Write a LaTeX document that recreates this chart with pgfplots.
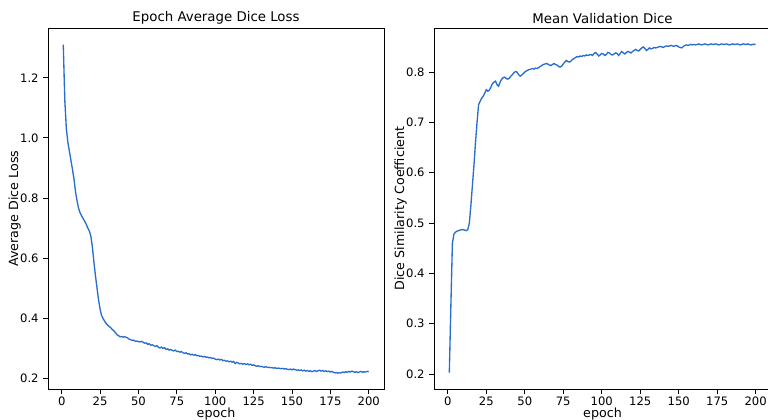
\documentclass[border=0pt]{standalone}
\usepackage{pgfplots}
\pgfplotsset{compat=1.18}
\usepackage{fontspec}
\setmainfont{DejaVu Sans}

\definecolor{lineblue}{RGB}{40,110,205}

\pgfplotstableread{
ep loss
1 1.310
2 1.125
3 1.030
4 0.985
5 0.955
6 0.925
7 0.895
8 0.862
9 0.820
10 0.790
11 0.765
12 0.750
13 0.740
14 0.731
15 0.722
16 0.712
17 0.700
18 0.690
19 0.672
20 0.635
21 0.585
22 0.540
23 0.500
24 0.460
25 0.430
26 0.408
27 0.398
28 0.390
29 0.382
30 0.377
31 0.372
32 0.368
33 0.362
34 0.358
35 0.352
36 0.345
37 0.342
38 0.338
39 0.339
40 0.337
41 0.339
42 0.336
43 0.334
44 0.330
45 0.328
46 0.326
47 0.327
48 0.323
49 0.324
50 0.322
51 0.321
52 0.323
53 0.320
54 0.317
55 0.318
56 0.313
57 0.315
58 0.310
59 0.312
60 0.308
61 0.306
62 0.309
63 0.303
64 0.301
65 0.304
66 0.299
67 0.302
68 0.296
69 0.298
70 0.294
71 0.296
72 0.293
73 0.291
74 0.294
75 0.289
76 0.290
77 0.287
78 0.289
79 0.285
80 0.283
81 0.285
82 0.281
83 0.282
84 0.278
85 0.280
86 0.277
87 0.279
88 0.275
89 0.276
90 0.273
91 0.274
92 0.271
93 0.273
94 0.270
95 0.271
96 0.268
97 0.269
98 0.266
99 0.267
100 0.264
101 0.262
102 0.264
103 0.261
104 0.263
105 0.259
106 0.260
107 0.257
108 0.258
109 0.255
110 0.257
111 0.254
112 0.256
113 0.249
114 0.253
115 0.251
116 0.248
117 0.250
118 0.247
119 0.249
120 0.246
121 0.248
122 0.245
123 0.247
124 0.243
125 0.245
126 0.242
127 0.240
128 0.242
129 0.239
130 0.240
131 0.238
132 0.237
133 0.239
134 0.236
135 0.237
136 0.235
137 0.236
138 0.234
139 0.235
140 0.233
141 0.234
142 0.233
143 0.232
144 0.233
145 0.231
146 0.232
147 0.230
148 0.229
149 0.231
150 0.228
151 0.231
152 0.229
153 0.227
154 0.228
155 0.226
156 0.228
157 0.225
158 0.227
159 0.224
160 0.226
161 0.223
162 0.225
163 0.222
164 0.224
165 0.226
166 0.223
167 0.225
168 0.227
169 0.224
170 0.226
171 0.223
172 0.225
173 0.222
174 0.224
175 0.221
176 0.223
177 0.220
178 0.218
179 0.219
180 0.217
181 0.219
182 0.218
183 0.221
184 0.219
185 0.222
186 0.220
187 0.223
188 0.221
189 0.224
190 0.222
191 0.220
192 0.222
193 0.219
194 0.221
195 0.223
196 0.220
197 0.222
198 0.221
199 0.223
200 0.222
}\losstable

\pgfplotstableread{
ep dice
1 0.203
2 0.335
3 0.460
4 0.478
5 0.482
6 0.484
7 0.485
8 0.486
9 0.487
10 0.487
11 0.486
12 0.485
13 0.487
14 0.500
15 0.535
16 0.575
17 0.615
18 0.660
19 0.700
20 0.735
21 0.742
22 0.748
23 0.752
24 0.758
25 0.765
26 0.762
27 0.764
28 0.770
29 0.777
30 0.780
31 0.782
32 0.775
33 0.772
34 0.780
35 0.786
36 0.789
37 0.790
38 0.787
39 0.786
40 0.788
41 0.792
42 0.795
43 0.799
44 0.801
45 0.800
46 0.795
47 0.792
48 0.794
49 0.797
50 0.800
51 0.802
52 0.804
53 0.805
54 0.806
55 0.807
56 0.806
57 0.808
58 0.807
59 0.809
60 0.811
61 0.813
62 0.815
63 0.816
64 0.817
65 0.816
66 0.814
67 0.813
68 0.815
69 0.817
70 0.815
71 0.814
72 0.811
73 0.810
74 0.812
75 0.816
76 0.820
77 0.823
78 0.821
79 0.820
80 0.822
81 0.825
82 0.827
83 0.829
84 0.831
85 0.830
86 0.832
87 0.831
88 0.833
89 0.832
90 0.834
91 0.833
92 0.834
93 0.835
94 0.833
95 0.837
96 0.839
97 0.836
98 0.832
99 0.834
100 0.837
101 0.836
102 0.833
103 0.835
104 0.839
105 0.838
106 0.835
107 0.834
108 0.836
109 0.838
110 0.837
111 0.833
112 0.837
113 0.841
114 0.838
115 0.836
116 0.839
117 0.841
118 0.840
119 0.838
120 0.841
121 0.843
122 0.845
123 0.843
124 0.842
125 0.845
126 0.848
127 0.850
128 0.847
129 0.843
130 0.845
131 0.848
132 0.846
133 0.847
134 0.849
135 0.848
136 0.849
137 0.850
138 0.851
139 0.850
140 0.849
141 0.851
142 0.852
143 0.851
144 0.852
145 0.853
146 0.852
147 0.851
148 0.853
149 0.852
150 0.850
151 0.849
152 0.848
153 0.851
154 0.853
155 0.854
156 0.853
157 0.854
158 0.855
159 0.854
160 0.855
161 0.854
162 0.855
163 0.856
164 0.855
165 0.854
166 0.855
167 0.856
168 0.855
169 0.854
170 0.855
171 0.856
172 0.855
173 0.855
174 0.856
175 0.855
176 0.854
177 0.855
178 0.856
179 0.855
180 0.855
181 0.856
182 0.855
183 0.854
184 0.855
185 0.856
186 0.855
187 0.855
188 0.856
189 0.855
190 0.854
191 0.855
192 0.856
193 0.855
194 0.855
195 0.856
196 0.855
197 0.854
198 0.855
199 0.855
200 0.855
}\dicetable

\pgfplotsset{
  mplstyle/.style={
    scale only axis,
    width=252pt, height=270.75pt,
    anchor=south west,
    axis line style={black, line width=0.7pt},
    tick align=outside,
    xtick pos=bottom, ytick pos=left,
    major tick length=3.5pt,
    every tick/.style={black, line width=0.7pt},
    tick label style={font=\fontsize{8.7}{10}\selectfont},
    xticklabel style={yshift=-1pt, inner sep=1pt},
    /pgf/number format/assume math mode=true,
    xmin=-8.95, xmax=209.95,
    xtick={0,25,50,75,100,125,150,175,200},
    title style={font=\fontsize{10}{12}\selectfont, at={(axis description cs:0.5,1)}, anchor=south, yshift=-6.5pt},
    label style={font=\fontsize{9.5}{11}\selectfont},
    xlabel style={at={(axis description cs:0.5,0)}, anchor=north, yshift=-13pt, inner sep=1pt},
    ylabel style={at={(axis description cs:0,0.5)}, anchor=center, yshift=25pt},
    yticklabel style={/pgf/number format/fixed, /pgf/number format/fixed zerofill, /pgf/number format/precision=1},
  },
}

\begin{document}
\begin{tikzpicture}
\useasboundingbox (0,0) rectangle (576pt,315pt);

\begin{axis}[mplstyle,
  at={(36pt,23.25pt)},
  title={Epoch Average Dice Loss},
  xlabel={epoch}, ylabel={Average Dice Loss},
  ymin=0.1645, ymax=1.3655,
  ytick={0.2,0.4,0.6,0.8,1.0,1.2},
]
\addplot[lineblue, line width=1pt, no markers] table[x=ep, y=loss] {\losstable};
\end{axis}

\begin{axis}[mplstyle,
  at={(325.5pt,23.25pt)},
  width=252.75pt,
  title={Mean Validation Dice},
  xlabel={epoch}, ylabel={Dice Similarity Coefficient},
  ymin=0.1704, ymax=0.8876,
  ytick={0.2,0.3,0.4,0.5,0.6,0.7,0.8},
]
\addplot[lineblue, line width=1pt, no markers] table[x=ep, y=dice] {\dicetable};
\end{axis}
\end{tikzpicture}
\end{document}
